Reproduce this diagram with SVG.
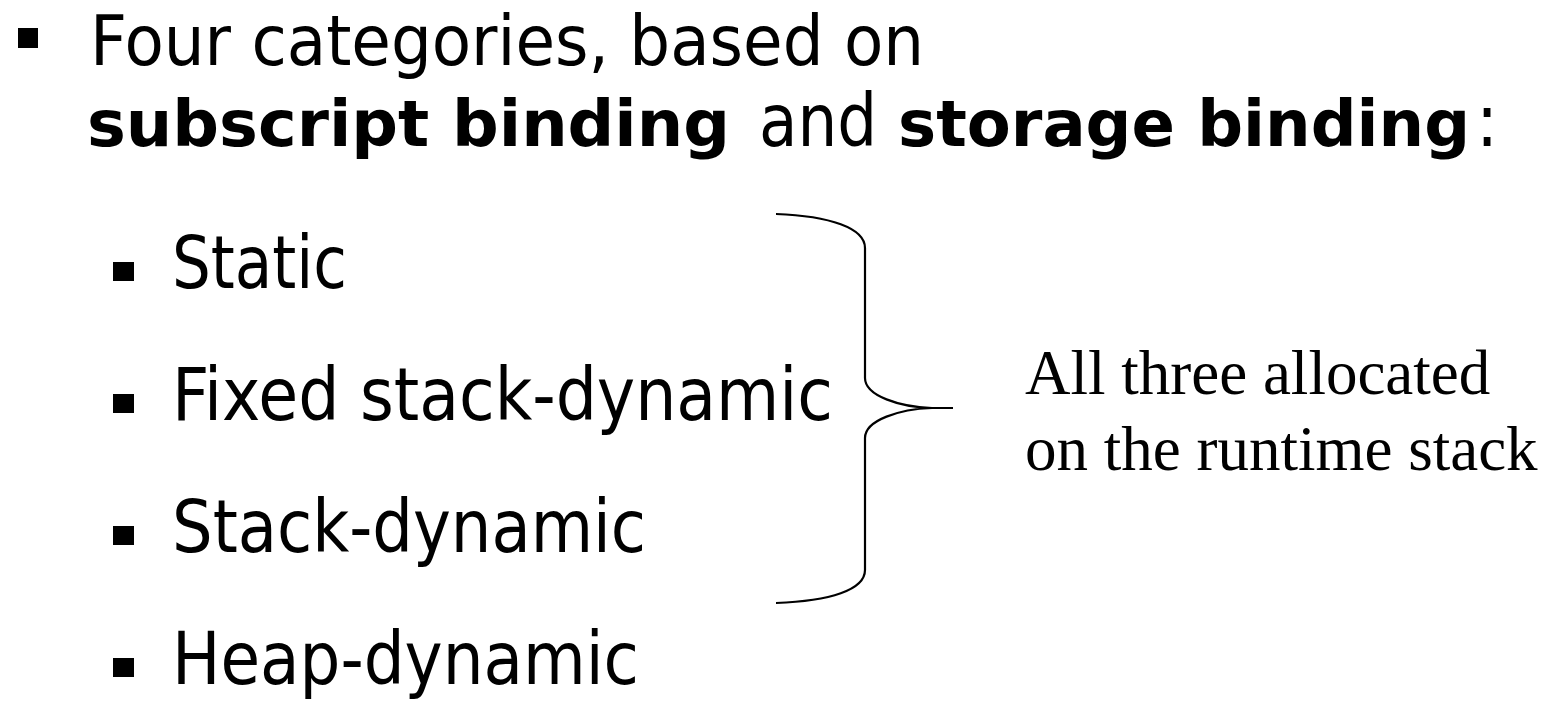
<svg xmlns="http://www.w3.org/2000/svg" width="1551" height="704" viewBox="0 0 1551 704">
<style>
.reg{font-family:"DejaVu Sans Condensed","DejaVu Sans","Liberation Sans",sans-serif;font-stretch:condensed;font-size:73px;fill:#000}
.top{font-size:70px}
.bold{font-family:"DejaVu Sans","Liberation Sans",sans-serif;font-size:64px;font-weight:bold;fill:#000}
.ser{font-family:"Liberation Serif","Times New Roman",serif;font-size:63px;fill:#000}
.brace{fill:none;stroke:#000;stroke-width:2.2}
</style>
<rect width="1551" height="704" fill="#fff"/>
<g id="heading">
<rect x="18" y="28" width="20" height="20"/>
<text class="reg top" x="90" y="65" textLength="834" lengthAdjust="spacingAndGlyphs">Four categories, based on</text>
<text y="146"><tspan class="bold" x="87" textLength="643" lengthAdjust="spacingAndGlyphs">subscript binding</tspan><tspan class="reg" x="759" textLength="118" lengthAdjust="spacingAndGlyphs">and</tspan><tspan class="bold" x="898" textLength="572" lengthAdjust="spacingAndGlyphs">storage binding</tspan><tspan class="reg" x="1476">:</tspan></text>
</g>
<g id="item-static"><rect x="113" y="262" width="21" height="19"/><text class="reg" x="172" y="288" textLength="175" lengthAdjust="spacingAndGlyphs">Static</text></g>
<g id="item-fixed"><rect x="113" y="394" width="21" height="19"/><text class="reg" x="172" y="420" textLength="661" lengthAdjust="spacingAndGlyphs">Fixed stack-dynamic</text></g>
<g id="item-stack"><rect x="113" y="526" width="21" height="19"/><text class="reg" x="172" y="552" textLength="474" lengthAdjust="spacingAndGlyphs">Stack-dynamic</text></g>
<g id="item-heap"><rect x="113" y="658" width="21" height="19"/><text class="reg" x="172" y="684" textLength="467" lengthAdjust="spacingAndGlyphs">Heap-dynamic</text></g>
<g id="connectors">
<path class="brace" d="M776 214 C830 216 865 228 865 248 V378 C865 396 900 407 932 408 H953 M932 408 C900 409 865 420 865 438 V570 C865 590 830 601 776 603"/>
</g>
<g id="note">
<text class="ser" x="1025" y="394">All three allocated</text>
<text class="ser" x="1025" y="470">on the runtime stack</text>
</g>
</svg>
